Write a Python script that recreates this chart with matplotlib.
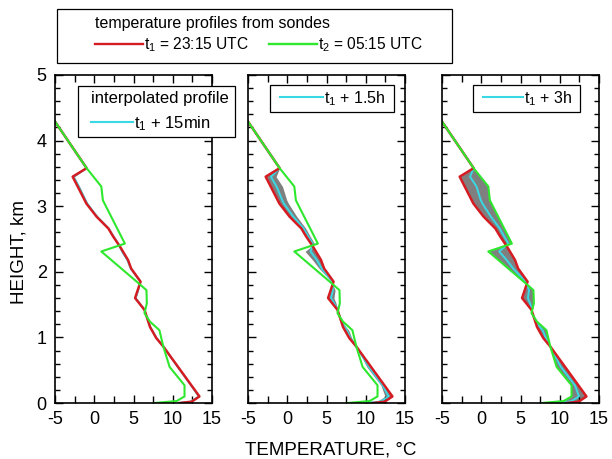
import numpy as np
import matplotlib
matplotlib.use('Agg')
import matplotlib.pyplot as plt
from matplotlib.lines import Line2D
from matplotlib.patches import Rectangle
from matplotlib.ticker import MultipleLocator

plt.rcParams['font.family'] = ['Liberation Sans', 'DejaVu Sans']
plt.rcParams['mathtext.fontset'] = 'custom'
plt.rcParams['mathtext.rm'] = 'Liberation Sans'
plt.rcParams['mathtext.it'] = 'Liberation Sans:italic'
plt.rcParams['axes.unicode_minus'] = False

# Sonde profiles: temperature (degC) vs height (km)
t1_height = [0.0, 0.02, 0.10, 0.86, 0.99, 1.16, 1.42, 1.60, 1.85, 2.05, 2.18,
             2.38, 2.54, 2.66, 2.84, 3.04, 3.45, 3.58, 4.29]
t1_temp = [10.9, 12.4, 13.4, 8.8, 7.9, 7.1, 6.4, 5.2, 5.9, 4.7, 4.3,
           3.3, 2.4, 1.8, 0.3, -1.0, -2.75, -0.97, -5.0]
t2_height = [0.0, 0.03, 0.10, 0.27, 0.55, 0.86, 1.11, 1.24, 1.37, 1.52, 1.72,
             1.82, 2.31, 2.43, 3.09, 3.30, 3.58, 4.29]
t2_temp = [7.7, 10.5, 11.5, 11.5, 9.6, 8.8, 8.3, 7.1, 6.4, 6.7, 6.65,
           5.7, 0.9, 3.9, 1.1, 0.9, -0.97, -5.0]

sonde_gap_h = 6.0
offsets_h = [0.25, 1.5, 3.0]
offset_labels = ['15min', '1.5h', '3h']

RED = '#d41c22'
GREEN = '#2ee82e'
CYAN = '#3ad8e4'
GRAY = '#7f7f7f'

W, H = 612, 459


def px(x, y):
    # pixel position (from top-left) -> figure fraction
    return x / W, 1 - y / H


def boxed_legend(fig, handles, labels, box, anchor, **kw):
    # white framed box with a frameless legend placed inside it
    x0, y0, x1, y1 = box
    fig.add_artist(Rectangle(px(x0, y1), (x1 - x0) / W, (y1 - y0) / H,
                             transform=fig.transFigure, facecolor='white',
                             edgecolor='black', lw=0.9, zorder=4))
    leg = fig.legend(handles, labels, loc='upper left', bbox_to_anchor=px(*anchor),
                     frameon=False, borderpad=0, borderaxespad=0,
                     handletextpad=0.05, alignment='left', **kw)
    leg.set_zorder(5)
    return leg


# common height grid for time interpolation between the two sondes
grid = np.union1d(t1_height, t2_height)
red_g = np.interp(grid, t1_height, t1_temp)
green_g = np.interp(grid, t2_height, t2_temp)

fig = plt.figure(figsize=(6.12, 4.59), dpi=100)
lefts = [55, 248, 442]
axs = [fig.add_axes([l / W, 1 - 403 / H, 157 / W, 328 / H]) for l in lefts]

for i, ax in enumerate(axs):
    f = offsets_h[i] / sonde_gap_h
    interp = red_g + f * (green_g - red_g)
    band = red_g + 2 * f * (green_g - red_g)
    ax.fill_betweenx(grid, red_g, band, color=GRAY, lw=0)
    ax.plot(interp, grid, color=CYAN, lw=1.4)
    ax.plot(t1_temp, t1_height, color=RED, lw=1.8)
    ax.plot(t2_temp, t2_height, color=GREEN, lw=1.5)

    ax.set_xlim(-5, 15)
    ax.set_ylim(0, 5)
    ax.xaxis.set_major_locator(MultipleLocator(5))
    ax.xaxis.set_minor_locator(MultipleLocator(2.5))
    ax.yaxis.set_major_locator(MultipleLocator(1))
    ax.yaxis.set_minor_locator(MultipleLocator(0.2))
    ax.tick_params(which='both', direction='in', top=True, right=True,
                   width=1.0, labelsize=13)
    ax.tick_params(which='major', length=5.5, pad=6)
    ax.tick_params(axis='y', which='minor', length=3.5)
    ax.tick_params(axis='x', which='minor', length=5)
    for s in ax.spines.values():
        s.set_linewidth(1.2)
    if i > 0:
        ax.tick_params(labelleft=False)

cyan_h = [Line2D([], [], color=CYAN, lw=1.5)]
boxed_legend(fig, cyan_h, [r'$\mathregular{t_1}$ + ' + offset_labels[0]],
             (78, 86, 235, 137), (91, 91), title='interpolated profile',
             fontsize=12, title_fontsize=12, handlelength=2.5)
boxed_legend(fig, cyan_h, [r'$\mathregular{t_1}$ + ' + offset_labels[1]],
             (270, 85, 394, 112), (280, 89), fontsize=11.5, handlelength=2.7)
boxed_legend(fig, cyan_h, [r'$\mathregular{t_1}$ + ' + offset_labels[2]],
             (473, 85, 580, 112), (483, 89), fontsize=11.5, handlelength=2.5)

boxed_legend(fig, [Line2D([], [], color=RED, lw=1.7), Line2D([], [], color=GREEN, lw=1.7)],
             [r'$\mathregular{t_1}$ = 23:15 UTC', r'$\mathregular{t_2}$ = 05:15 UTC'],
             (57, 9, 452, 63), (95, 16), title='temperature profiles from sondes',
             ncol=2, fontsize=11.2, title_fontsize=11.5, handlelength=3.1,
             columnspacing=1.3, labelspacing=0.3)

fig.text(19 / W, 1 - 252 / H, 'HEIGHT, km', rotation=90, ha='center',
         va='center', fontsize=13.5)
fig.text(331 / W, 1 - 450 / H, 'TEMPERATURE, °C', ha='center',
         va='center', fontsize=13.5)

fig.savefig('out.png', dpi=100)
